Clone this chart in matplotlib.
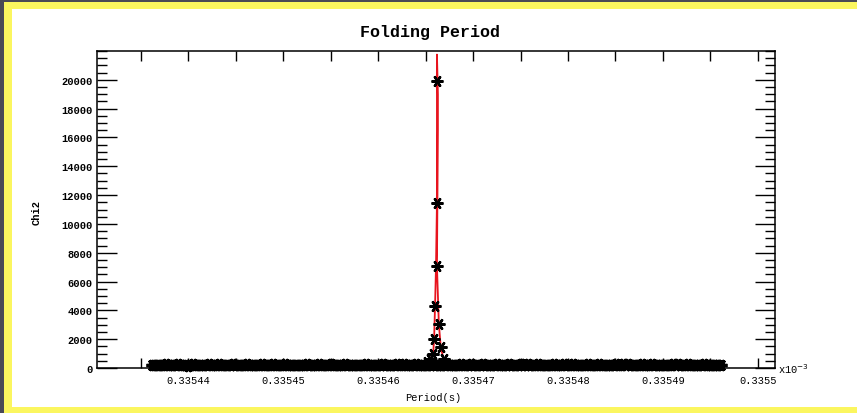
import numpy as np
import matplotlib
matplotlib.use("Agg")
import matplotlib.pyplot as plt
from matplotlib.patches import Rectangle
from matplotlib.ticker import MultipleLocator, FixedLocator, FixedFormatter

# ---------------- data ----------------
# trial period grid (s) of the folding search, evenly sampled
grid_start = 0.3354362
grid_stop = 0.3354961
baseline_chi2 = [
    210, 185, 240, 200, 175, 230, 260, 190, 205, 220, 180, 250, 215, 195, 235, 170, 225, 265, 200, 185,
    240, 210, 190, 230, 255, 175, 205, 220, 245, 195, 180, 215, 235, 200, 260, 185, 210, 230, 190, 175,
    250, 205, 220, 195, 240, 185, 265, 210, 180, 230, 200, 245, 215, 190, 225, 175, 255, 205, 235, 195,
    185, 220, 240, 210, 180, 250, 200, 230, 190, 215, 260, 185, 205, 225, 195, 245, 175, 210, 235, 200,
    190, 255, 220, 180, 230, 205, 240, 195, 215, 185, 250, 210, 225, 190, 235, 200, 180, 245, 215, 205,
    200, 230, 175, 245, 210, 190, 260, 220, 185, 235, 205, 250, 195, 215, 180, 240, 225, 200, 265, 190,
    215, 180, 235, 205, 250, 195, 220, 175, 240, 210, 260, 185, 230, 200, 245, 190, 225, 215, 180, 255,
    195, 240, 210, 185, 225, 265, 200, 230, 175, 215, 250, 190, 235, 205, 180, 245, 220, 195, 260, 210,
    230, 200, 255, 190, 215, 175, 240, 220, 185, 250, 205, 235, 195, 265, 180, 225, 210, 245, 200, 185,
    180, 225, 200, 250, 195, 235, 210, 185, 260, 220, 175, 240, 205, 230, 190, 255, 215, 200, 245, 225,
    250, 190, 215, 235, 180, 205, 245, 200, 225, 185, 265, 210, 195, 230, 175, 220, 240, 190, 205, 255,
    205, 245, 185, 220, 200, 260, 190, 230, 215, 180, 235, 195, 250, 210, 225, 175, 240, 200, 185, 215,
]

# points around the peak
peak_period = [0.3354652, 0.3354655, 0.3354658, 0.3354659, 0.3354660,
               0.3354662, 0.3354662, 0.3354662, 0.3354664, 0.3354666,
               0.3354669, 0.3354672]
peak_chi2 = [420, 650, 970, 2000, 4300,
             7050, 11450, 19950, 3050, 1450,
             600, 380]

# red connecting curve through the peak
red_period = [0.3354650, 0.3354655, 0.3354658, 0.3354659, 0.3354660,
              0.3354661, 0.3354662, 0.3354662, 0.3354663, 0.3354663,
              0.3354662, 0.3354664, 0.3354666, 0.3354669, 0.3354672]
red_chi2 = [250, 650, 970, 2000, 4300,
            7050, 11450, 21750, 19000, 16500,
            7050, 3050, 1450, 600, 250]

x_ticks = [0.335435, 0.33544, 0.335445, 0.33545, 0.335455, 0.33546,
           0.335465, 0.33547, 0.335475, 0.33548, 0.335485, 0.33549,
           0.335495, 0.3355]
x_tick_labels = ["", "0.33544", "", "0.33545", "", "0.33546",
                 "", "0.33547", "", "0.33548", "", "0.33549",
                 "", "0.3355"]
y_ticks = [0, 2000, 4000, 6000, 8000, 10000, 12000, 14000, 16000, 18000, 20000]
y_tick_labels = [str(v) for v in y_ticks]

# ---------------- figure ----------------
W, H = 857, 414
fig = plt.figure(figsize=(W / 100, H / 100), dpi=100)
fig.patch.set_facecolor("white")

dark = "#4a4a55"
yellow = "#fbf65f"
fig.patches.append(Rectangle((0, 1 - 3 / H), 1, 3 / H, transform=fig.transFigure,
                             facecolor=dark, edgecolor="none", zorder=0))
fig.patches.append(Rectangle((0, 0), 4 / W, 1, transform=fig.transFigure,
                             facecolor=dark, edgecolor="none", zorder=0))
fig.patches.append(Rectangle((4 / W, 1 - 10 / H), 1, 7 / H, transform=fig.transFigure,
                             facecolor=yellow, edgecolor="none", zorder=0))
fig.patches.append(Rectangle((4 / W, 0), 8 / W, 1 - 3 / H, transform=fig.transFigure,
                             facecolor=yellow, edgecolor="none", zorder=0))
fig.patches.append(Rectangle((4 / W, 0), 1, 6 / H, transform=fig.transFigure,
                             facecolor=yellow, edgecolor="none", zorder=0))

ax = fig.add_axes([97 / W, (H - 369) / H, (775 - 97) / W, (369 - 52) / H])

mono = "Liberation Mono"
period_grid = np.linspace(grid_start, grid_stop, len(baseline_chi2))

ast = (6, 2, 90)
ax.plot(red_period, red_chi2, color="#e8141e", lw=1.3, zorder=2)
ax.plot(period_grid, baseline_chi2, linestyle="none", marker=ast, ms=8.5,
        mec="black", mew=2.4, clip_on=False, zorder=3)
ax.plot(peak_period, peak_chi2, linestyle="none", marker=ast, ms=8.5,
        mec="black", mew=1.7, clip_on=False, zorder=3)

ax.set_xlim(0.3354304, 0.3355018)
ax.set_ylim(0, 22000)

ax.xaxis.set_major_locator(FixedLocator(x_ticks))
ax.xaxis.set_major_formatter(FixedFormatter(x_tick_labels))
ax.yaxis.set_major_locator(FixedLocator(y_ticks))
ax.yaxis.set_major_formatter(FixedFormatter(y_tick_labels))
ax.yaxis.set_minor_locator(MultipleLocator(500))

ax.tick_params(axis="x", which="major", direction="in", top=True, bottom=True,
               length=7.2, width=1.0, pad=5, labelsize=7.5)
ax.tick_params(axis="y", which="major", direction="in", left=True, right=True,
               length=14.5, width=1.0, pad=3.5, labelsize=7.5)
ax.tick_params(axis="y", which="minor", direction="in", left=True, right=True,
               length=7.2, width=1.0)
for lab in ax.get_xticklabels():
    lab.set_family(mono)
for lab in ax.get_yticklabels():
    lab.set_family(mono)
    lab.set_fontweight("bold")

for s in ax.spines.values():
    s.set_linewidth(1.1)

fig.text(430 / W, 1 - 33 / H, "Folding Period", family=mono, fontweight="bold",
         fontsize=12, ha="center", va="center")
fig.text(433 / W, 1 - 398 / H, "Period(s)", family=mono, fontsize=7.5,
         ha="center", va="center")
fig.text(37 / W, 1 - 213 / H, "Chi2", family=mono, fontsize=7.5, fontweight="bold",
         rotation=90, ha="center", va="center")
fig.text(778 / W, 1 - 369 / H, r"x10$^{-3}$", family=mono, fontsize=7.5,
         ha="left", va="center")

fig.savefig("out.png", dpi=100, facecolor=fig.get_facecolor())
